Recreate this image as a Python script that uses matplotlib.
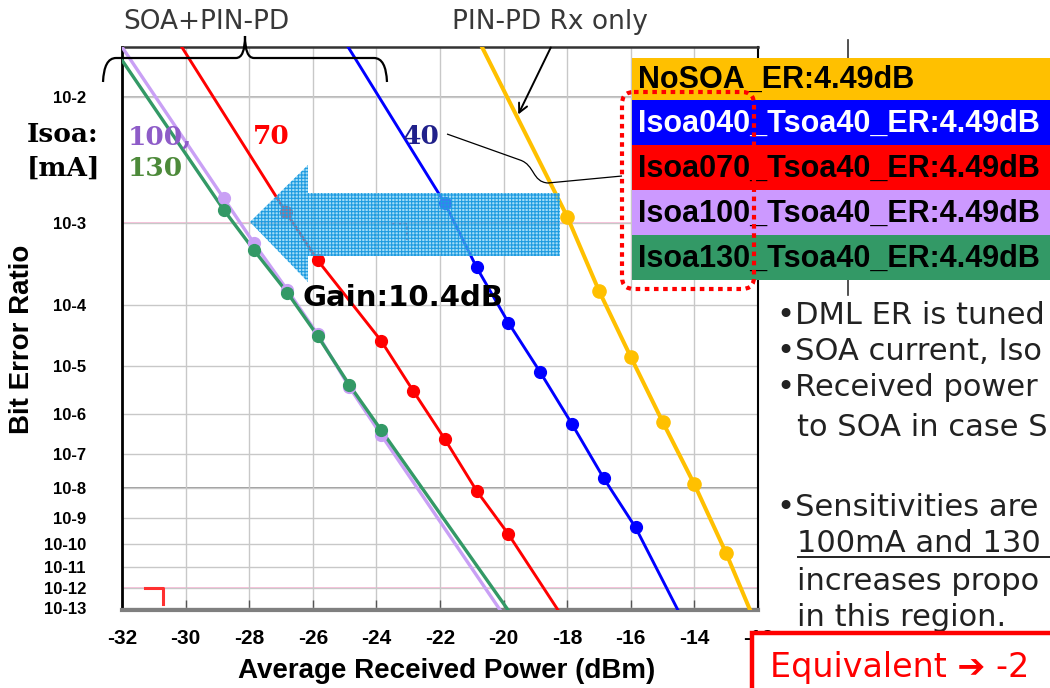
import numpy as np
import matplotlib
matplotlib.use("Agg")
import matplotlib.pyplot as plt
from matplotlib.patches import Polygon, Rectangle, FancyBboxPatch, FancyArrowPatch, PathPatch
from matplotlib.path import Path
from matplotlib.lines import Line2D
from matplotlib.transforms import Affine2D
from matplotlib.ticker import FixedLocator, NullLocator
from statistics import NormalDist

# --- data (power in dBm, bit error ratio) ---
nosoa_dbm = [-18, -17, -16, -15, -14, -13]
nosoa_ber = [1.16e-3, 1.59e-4, 1.47e-5, 6.7e-7, 1.3e-8, 4.0e-11]
nosoa_ends = [-20.68, -12.25]

isoa040_dbm = [-21.85, -20.85, -19.85, -18.85, -17.85, -16.85, -15.85]
isoa040_ber = [1.56e-3, 3.2e-4, 5.5e-5, 7.7e-6, 5.9e-7, 2.0e-8, 4.3e-10]
isoa040_ends = [-24.89, -14.52]

isoa070_dbm = [-26.85, -25.85, -23.85, -22.85, -21.85, -20.85, -19.85]
isoa070_ber = [1.29e-3, 3.9e-4, 2.8e-5, 3.3e-6, 2.5e-7, 8.2e-9, 2.4e-10]
isoa070_ends = [-30.12, -18.29]

isoa100_dbm = [-28.8, -27.85, -26.8, -25.85, -24.85, -23.85]
isoa100_ber = [1.73e-3, 6.1e-4, 1.63e-4, 3.6e-5, 3.9e-6, 3.2e-7]
isoa100_ends = [-32.0, -20.11]

isoa130_dbm = [-28.8, -27.85, -26.8, -25.85, -24.85, -23.85]
isoa130_ber = [1.35e-3, 5.1e-4, 1.5e-4, 3.4e-5, 4.3e-6, 4.2e-7]
isoa130_ends = [-32.0, -19.86]
isoa130_top_ber = 1.61e-2

ber_top = 1.88e-2
ber_bottom = 7.6e-14

x_ticks = list(range(-32, -11, 2))
y_exponents = list(range(2, 14))

legend_labels = ["NoSOA_ER:4.49dB", "Isoa040_Tsoa40_ER:4.49dB", "Isoa070_Tsoa40_ER:4.49dB",
                 "Isoa100_Tsoa40_ER:4.49dB", "Isoa130_Tsoa40_ER:4.49dB"]

bullet_lines = ["\u2022DML ER is tuned", "\u2022SOA current, Iso", "\u2022Received power",
                "to SOA in case S", "\u2022Sensitivities are", "100mA and 130",
                "increases propo", "in this region."]

# --- Q-scale for the BER axis ---
_nd = NormalDist()


def ber_to_y(ber):
    b = np.clip(np.asarray(ber, dtype=float), 1e-300, 0.49)
    q = np.vectorize(lambda p: -_nd.inv_cdf(p), otypes=[float])(b)
    return -np.log10(q)


def y_to_ber(y):
    q = 10.0 ** (-np.asarray(y, dtype=float))
    return np.vectorize(lambda v: _nd.cdf(-v), otypes=[float])(q)


W, H = 1050, 688
fig = plt.figure(figsize=(W / 100, H / 100), dpi=100)
px = Affine2D().scale(1 / W, -1 / H).translate(0, 1) + fig.transFigure
plt.rcParams["hatch.linewidth"] = 0.8

ax = fig.add_axes([122 / W, 1 - 610 / H, 636 / W, 563 / H])
ax.set_yscale("function", functions=(ber_to_y, y_to_ber))
ax.set_xlim(-32, -12)
ax.set_ylim(ber_bottom, ber_top)

ax.xaxis.set_major_locator(FixedLocator(x_ticks))
ax.set_xticklabels([str(t) for t in x_ticks])
y_ticks = [10.0 ** -e for e in y_exponents]
ax.yaxis.set_major_locator(FixedLocator(y_ticks))
ax.yaxis.set_minor_locator(NullLocator())
ax.set_yticklabels([f"10-{e}" for e in y_exponents])

for lab in ax.get_xticklabels():
    lab.set_fontfamily("Liberation Sans")
    lab.set_fontweight("bold")
    lab.set_fontsize(15)
for lab in ax.get_yticklabels():
    lab.set_fontfamily("Liberation Sans")
    lab.set_fontweight("bold")
    lab.set_fontsize(12)
ax.tick_params(axis="x", direction="in", length=7, width=1, color="#555555", pad=14)
ax.tick_params(axis="y", length=0, pad=26)

ax.grid(True, color="#c8c8c8", lw=1.0, zorder=0)
ax.axhline(1e-8, color="#8a8a8a", lw=1.2, zorder=1)
ax.axhline(1e-2, color="#aaaaaa", lw=1.2, zorder=1)
ax.axhline(1e-3, color="#ffb6d9", lw=1.2, zorder=1)
ax.axhline(1e-12, color="#ffb6d9", lw=1.2, zorder=1)

ax.spines["left"].set_color("black")
ax.spines["left"].set_linewidth(2)
ax.spines["bottom"].set_color("#7f7f7f")
ax.spines["bottom"].set_linewidth(3)
ax.spines["top"].set_color("#333333")
ax.spines["top"].set_linewidth(1.8)
ax.spines["right"].set_color("black")
ax.spines["right"].set_linewidth(1.5)

ax.set_xlabel("Average Received Power (dBm)", fontfamily="Liberation Sans", fontweight="bold", fontsize=20)
ax.set_ylabel("Bit Error Ratio", fontfamily="Liberation Sans", fontweight="bold", fontsize=20)
ax.xaxis.set_label_coords(0.511, -0.085)
ax.yaxis.set_label_coords(-0.137, 0.48)

series = [
    (isoa100_dbm, isoa100_ber, isoa100_ends, ber_top, "#c9a0f5", 2.4, 8.5),
    (isoa130_dbm, isoa130_ber, isoa130_ends, isoa130_top_ber, "#339966", 2.4, 8.5),
    (isoa070_dbm, isoa070_ber, isoa070_ends, ber_top, "#ff0000", 2.1, 8.5),
    (isoa040_dbm, isoa040_ber, isoa040_ends, ber_top, "#0000ff", 2.1, 8.5),
    (nosoa_dbm, nosoa_ber, nosoa_ends, ber_top, "#ffc000", 2.9, 9.5),
]
for dbm, ber, ends, top, color, lw, ms in series:
    line_x = [ends[0]] + list(dbm) + [ends[1]]
    line_y = [top] + list(ber) + [ber_bottom]
    ax.plot(line_x, line_y, color=color, lw=lw, zorder=3)
    ax.plot(dbm, ber, "o", color=color, ms=ms, zorder=4)

# --- annotations in pixel coordinates ---
font_main = "DejaVu Sans"

fig.text(206, 22, "SOA+PIN-PD", transform=px, ha="center", va="center", fontsize=19,
         color="#383838", fontfamily=font_main)
fig.text(550, 22, "PIN-PD Rx only", transform=px, ha="center", va="center", fontsize=19,
         color="#383838", fontfamily=font_main)

brace = Path(
    [(103, 82), (104, 58), (116, 58), (236, 58), (245, 58), (245, 36),
     (245, 58), (254, 58), (374, 58), (386, 58), (387, 82)],
    [Path.MOVETO, Path.CURVE3, Path.CURVE3, Path.LINETO, Path.CURVE3, Path.CURVE3,
     Path.CURVE3, Path.CURVE3, Path.LINETO, Path.CURVE3, Path.CURVE3],
)
fig.patches.append(PathPatch(brace, transform=px, fill=False, edgecolor="black", lw=1.6, zorder=5))

fig.patches.append(FancyArrowPatch((552, 45), (517, 117), transform=px, arrowstyle="->",
                                   mutation_scale=16, color="black", lw=1.4, zorder=5))

conn = Path([(447, 134), (520, 160), (535, 165), (532, 182), (548, 183), (622, 176)],
            [Path.MOVETO, Path.LINETO, Path.CURVE4, Path.CURVE4, Path.CURVE4, Path.LINETO])
fig.patches.append(PathPatch(conn, transform=px, fill=False, edgecolor="black", lw=0.9, zorder=5))

# small corner marks
fig.lines.append(Line2D([145, 163, 163], [588, 588, 604], transform=px, color="#ff3030", lw=2.2, zorder=2))
fig.lines.append(Line2D([392, 407, 407], [224, 224, 240], transform=px, color="#b04060", lw=1.2,
                        ls=(0, (2, 1.5)), zorder=2))

# big hatched arrow
arrow_pts = [(250, 222), (308, 165), (308, 193), (560, 193), (560, 256), (308, 256), (308, 282)]
fig.patches.append(Polygon(arrow_pts, closed=True, transform=px, facecolor=(0.40, 0.78, 0.95, 0.6),
                           edgecolor="#1e9be0", hatch="+++++", lw=0, zorder=3))

for s, x, y, c in [("Isoa:", 27, 135, "black"), ("[mA]", 27, 168, "black"),
                   ("100,", 128, 137, "#8e5cc8"), ("130", 128, 168, "#4d8a3a"),
                   ("70", 253, 137, "#ff0000"), ("40", 403, 137, "#20208a")]:
    fig.text(x, y, s, transform=px, ha="left", va="center", fontsize=19, fontweight="bold",
             fontfamily="DejaVu Serif", color=c)

fig.text(302, 298, "Gain:10.4dB", transform=px, ha="left", va="center", fontsize=21, fontweight="bold",
         fontfamily=font_main, color="black", zorder=6)

# legend block
fig.lines.append(Line2D([848, 848], [40, 295], transform=px, color="#333333", lw=1.2, zorder=1))
row_edges = [58, 100, 145, 190, 235, 280]
row_colors = ["#ffc000", "#0000ff", "#ff0000", "#cc99ff", "#339966"]
text_colors = ["black", "white", "black", "black", "black"]
for i, label in enumerate(legend_labels):
    y0, y1 = row_edges[i], row_edges[i + 1]
    fig.patches.append(Rectangle((632, y0), 430, y1 - y0, transform=px, facecolor=row_colors[i],
                                 edgecolor="none", zorder=6))
    fig.text(638, (y0 + y1) / 2 + 1, label, transform=px, ha="left", va="center", fontsize=22,
             fontweight="bold", fontfamily="Liberation Sans", color=text_colors[i], zorder=7)

fig.patches.append(FancyBboxPatch((622, 92), 132, 197, transform=px,
                                  boxstyle="round,pad=0,rounding_size=12", fill=False,
                                  edgecolor="#ff0000", lw=3.0, ls=(0, (1.1, 1.1)), zorder=8))

# right-hand notes
note_x = [777, 777, 777, 797, 777, 797, 797, 797]
note_y = [315, 352, 388, 427, 507, 543, 582, 617]
for s, x, y in zip(bullet_lines, note_x, note_y):
    fig.text(x, y, s, transform=px, ha="left", va="center", fontsize=22, fontfamily=font_main,
             color="#222222", zorder=6)
fig.lines.append(Line2D([798, 1050], [557, 557], transform=px, color="#222222", lw=1.4, zorder=6))

fig.patches.append(Rectangle((752, 633), 320, 80, transform=px, facecolor="white",
                             edgecolor="#ff0000", lw=3.2, zorder=9))
fig.text(770, 667, "Equivalent \u2794 -2", transform=px, ha="left", va="center", fontsize=24,
         fontfamily=[font_main, "Noto Sans"], color="#ff0000", zorder=10)

fig.savefig("out.png", dpi=100)
